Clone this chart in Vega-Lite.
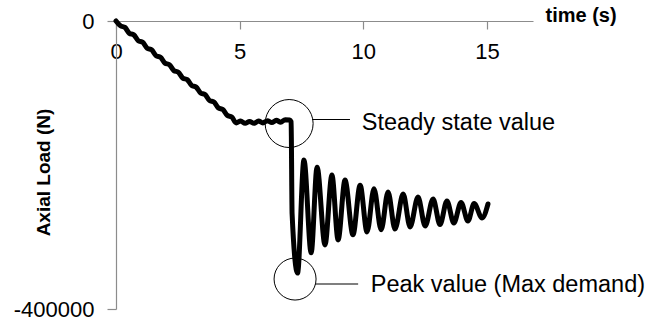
{
  "$schema": "https://vega.github.io/schema/vega-lite/v6.json",
  "width": 417,
  "height": 288,
  "autosize": {"type": "none"},
  "padding": {"left": 116, "top": 21, "right": 120, "bottom": 15},
  "background": "#ffffff",
  "config": {
    "view": {"stroke": null},
    "axis": {
      "grid": false,
      "domainColor": "#8c8c8c",
      "tickColor": "#8c8c8c",
      "domainWidth": 1.2,
      "tickWidth": 1.2,
      "labelColor": "#000000",
      "labelFont": "Liberation Sans",
      "labelFontSize": 22,
      "titleFont": "Liberation Sans",
      "titleColor": "#000000",
      "titleFontWeight": "bold"
    }
  },
  "datasets": {
    "series": [
      {"t": 0, "load": 0},
      {"t": 0.18, "load": -6700},
      {"t": 0.36, "load": -8900},
      {"t": 0.54, "load": -17100},
      {"t": 0.72, "load": -19200},
      {"t": 0.90, "load": -27400},
      {"t": 1.08, "load": -29600},
      {"t": 1.26, "load": -37800},
      {"t": 1.44, "load": -40000},
      {"t": 1.62, "load": -48200},
      {"t": 1.80, "load": -50300},
      {"t": 1.98, "load": -58500},
      {"t": 2.16, "load": -60700},
      {"t": 2.34, "load": -68900},
      {"t": 2.52, "load": -71100},
      {"t": 2.70, "load": -79300},
      {"t": 2.88, "load": -81400},
      {"t": 3.06, "load": -89600},
      {"t": 3.24, "load": -91800},
      {"t": 3.42, "load": -100000},
      {"t": 3.60, "load": -102200},
      {"t": 3.78, "load": -110400},
      {"t": 3.96, "load": -112500},
      {"t": 4.14, "load": -120700},
      {"t": 4.32, "load": -122900},
      {"t": 4.50, "load": -131100},
      {"t": 4.68, "load": -133300},
      {"t": 4.86, "load": -141500},
      {"t": 5.04, "load": -139000},
      {"t": 5.22, "load": -142000},
      {"t": 5.40, "load": -139500},
      {"t": 5.58, "load": -142000},
      {"t": 5.76, "load": -139000},
      {"t": 5.94, "load": -141500},
      {"t": 6.12, "load": -138500},
      {"t": 6.30, "load": -141000},
      {"t": 6.48, "load": -138000},
      {"t": 6.66, "load": -140500},
      {"t": 6.84, "load": -137000},
      {"t": 7.02, "load": -137500},
      {"t": 7.08, "load": -140000},
      {"t": 7.12, "load": -268000},
      {"t": 7.34, "load": -350000},
      {"t": 7.60, "load": -193000},
      {"t": 7.89, "load": -322000},
      {"t": 8.13, "load": -203000},
      {"t": 8.45, "load": -311000},
      {"t": 8.73, "load": -214000},
      {"t": 8.98, "load": -304000},
      {"t": 9.26, "load": -221000},
      {"t": 9.58, "load": -297000},
      {"t": 9.87, "load": -228000},
      {"t": 10.15, "load": -293000},
      {"t": 10.43, "load": -233000},
      {"t": 10.72, "load": -290000},
      {"t": 11.00, "load": -237500},
      {"t": 11.28, "load": -289000},
      {"t": 11.61, "load": -240300},
      {"t": 11.89, "load": -286000},
      {"t": 12.21, "load": -244500},
      {"t": 12.50, "load": -284700},
      {"t": 12.82, "load": -247200},
      {"t": 13.10, "load": -282700},
      {"t": 13.38, "load": -250000},
      {"t": 13.66, "load": -280600},
      {"t": 13.95, "load": -252100},
      {"t": 14.23, "load": -277800},
      {"t": 14.48, "load": -253500},
      {"t": 14.80, "load": -273600},
      {"t": 15.04, "load": -254200}
    ],
    "circles": [
      {"t": 7.0, "load": -142400, "kind": "steady"},
      {"t": 7.24, "load": -358400, "kind": "peak"}
    ],
    "leaders": [
      {"t": 7.93, "t2": 9.46, "load": -136800},
      {"t": 8.05, "t2": 9.79, "load": -365300}
    ],
    "notes": [
      {"t": 9.94, "load": -151400, "label": "Steady state value"},
      {"t": 10.30, "load": -377000, "label": "Peak value (Max demand)"}
    ]
  },
  "layer": [
    {
      "data": {"name": "series"},
      "mark": {"type": "line", "color": "#000000", "strokeWidth": 5, "interpolate": "monotone", "strokeJoin": "round", "strokeCap": "round"},
      "encoding": {
        "x": {
          "field": "t", "type": "quantitative",
          "scale": {"domain": [0, 16.86], "nice": false, "zero": false},
          "axis": {
            "orient": "bottom", "offset": -288,
            "values": [0, 5, 10, 15], "tickSize": 8, "labelPadding": 12,
            "labelFlush": false, "labelOverlap": false,
            "title": "time (s)", "titleFontSize": 20, "titleAngle": 0,
            "titleX": 429, "titleY": -6, "titleAlign": "left", "titleBaseline": "middle"
          }
        },
        "y": {
          "field": "load", "type": "quantitative",
          "scale": {"domain": [-400000, 0], "nice": false},
          "axis": {
            "values": [-400000, 0], "tickSize": 9, "labelPadding": 13,
            "labelExpr": "'' + datum.value",
            "title": "Axial Load (N)", "titleFontSize": 19, "titleAngle": -90,
            "titleX": -73, "titleY": 151, "titleAlign": "center", "titleBaseline": "middle"
          }
        }
      }
    },
    {
      "data": {"name": "circles"},
      "mark": {"type": "point", "shape": "circle", "filled": false, "stroke": "#000000", "strokeWidth": 1, "opacity": 1},
      "encoding": {
        "x": {"field": "t", "type": "quantitative"},
        "y": {"field": "load", "type": "quantitative"},
        "size": {"field": "kind", "type": "nominal", "scale": {"domain": ["steady", "peak"], "range": [2304, 1764]}, "legend": null}
      }
    },
    {
      "data": {"name": "leaders"},
      "mark": {"type": "rule", "color": "#000000", "strokeWidth": 1.2},
      "encoding": {
        "x": {"field": "t", "type": "quantitative"},
        "x2": {"field": "t2"},
        "y": {"field": "load", "type": "quantitative"}
      }
    },
    {
      "data": {"name": "notes"},
      "mark": {"type": "text", "align": "left", "baseline": "alphabetic", "font": "Liberation Sans", "fontSize": 23.5, "color": "#000000"},
      "encoding": {
        "x": {"field": "t", "type": "quantitative"},
        "y": {"field": "load", "type": "quantitative"},
        "text": {"field": "label"}
      }
    }
  ]
}
